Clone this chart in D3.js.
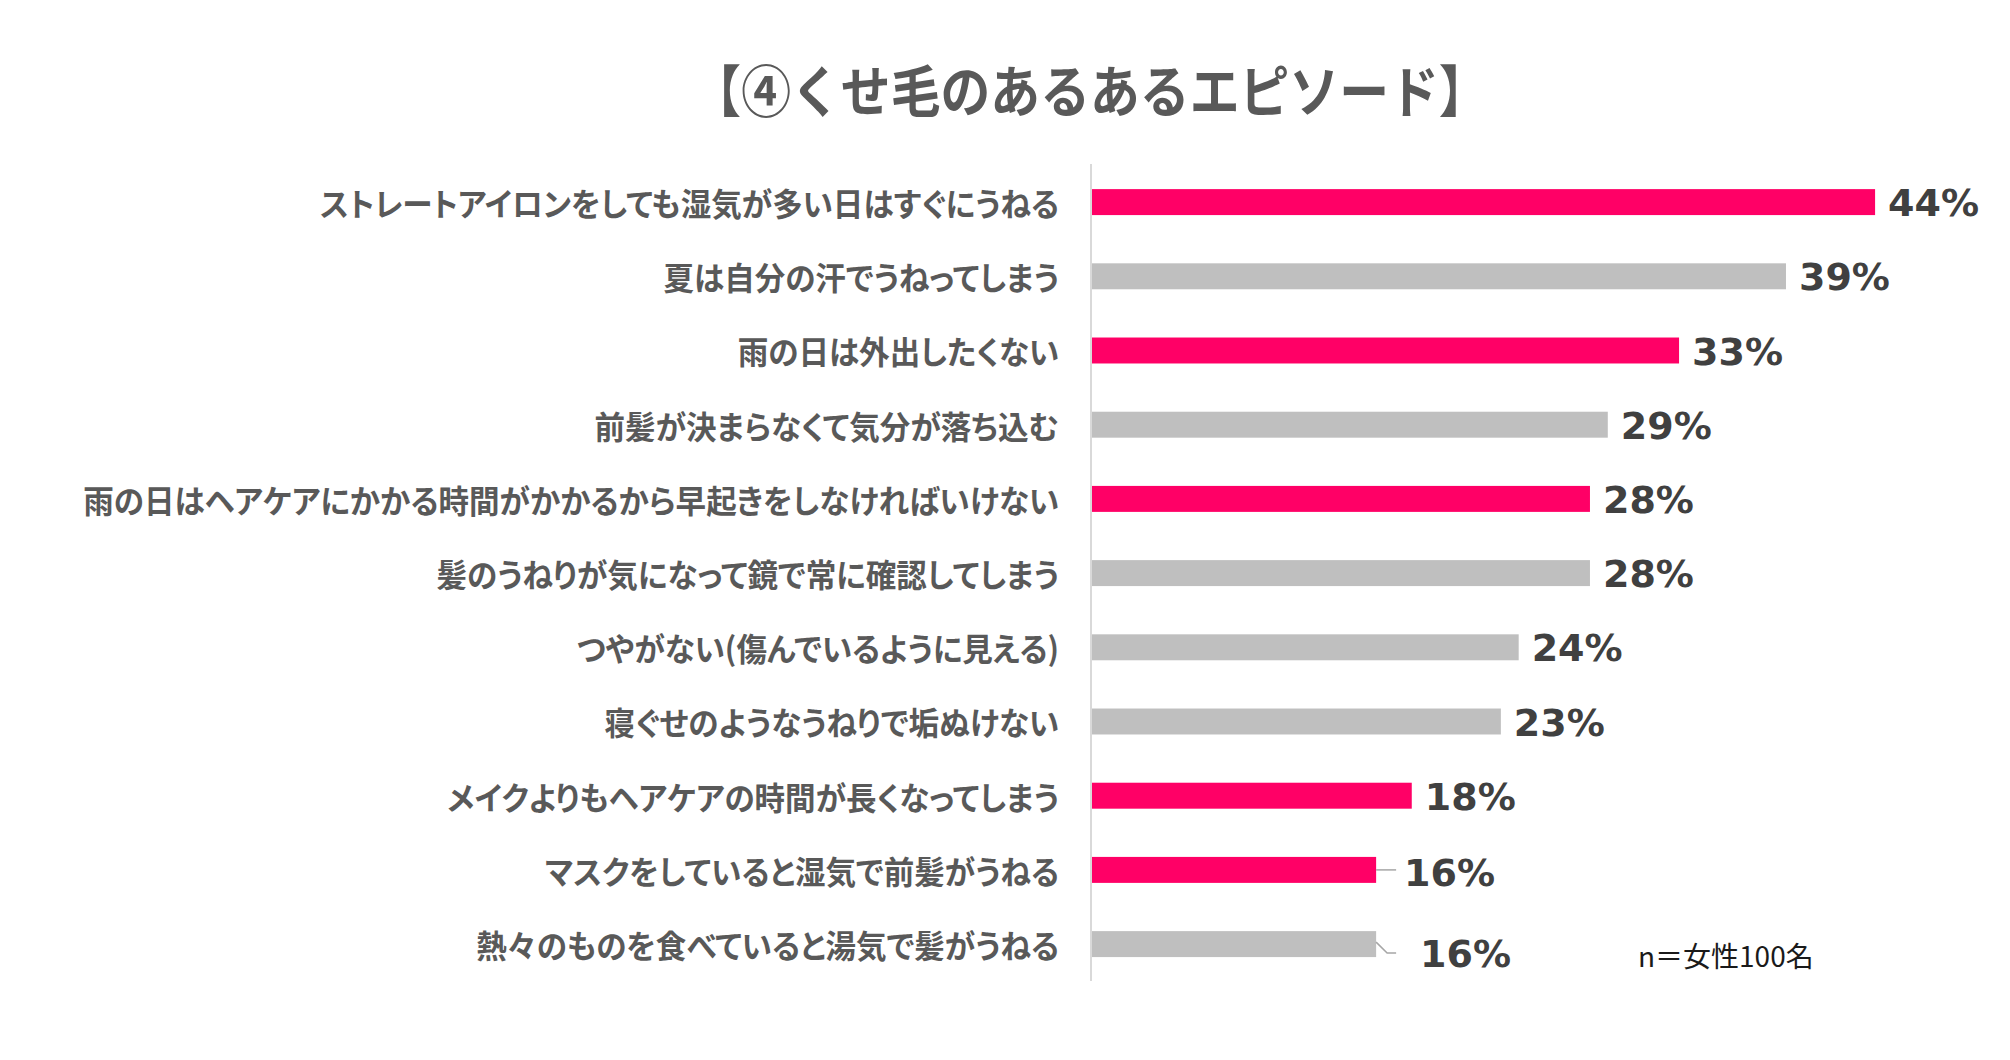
<!DOCTYPE html>
<html lang="ja">
<head>
<meta charset="utf-8">
<script src="https://cdn.jsdelivr.net/npm/d3@7"></script>
<style>
  html, body { margin: 0; padding: 0; background: #ffffff; }
  svg { display: block; }
  .cat { font-feature-settings: "palt" 1; }
</style>
</head>
<body>
<svg id="chart" width="2010" height="1060"></svg>
<script>
// Episodes, top to bottom
const categories = [
  "ストレートアイロンをしても湿気が多い日はすぐにうねる",
  "夏は自分の汗でうねってしまう",
  "雨の日は外出したくない",
  "前髪が決まらなくて気分が落ち込む",
  "雨の日はヘアケアにかかる時間がかかるから早起きをしなければいけない",
  "髪のうねりが気になって鏡で常に確認してしまう",
  "つやがない(傷んでいるように見える)",
  "寝ぐせのようなうねりで垢ぬけない",
  "メイクよりもヘアケアの時間が長くなってしまう",
  "マスクをしていると湿気で前髪がうねる",
  "熱々のものを食べていると湯気で髪がうねる"
];
// Share of respondents (%)
const values = [44, 39, 33, 29, 28, 28, 24, 23, 18, 16, 16];
// Highlighted rows
const highlighted = [true, false, true, false, true, false, false, false, true, true, false];

const title = "【④くせ毛のあるあるエピソード】";
const note = "n＝女性100名";

const PINK = "#ff0066";
const GREY = "#bfbfbf";

const svg = d3.select("#chart");

const x = d3.scaleLinear().domain([0, 100]).range([1091, 1091 + 1782]);
const y = d3.scaleBand()
  .domain(categories)
  .range([165, 165 + 74.2 * categories.length])
  .paddingInner(0.65)
  .paddingOuter(0.325);

const rows = categories.map((c, i) => ({ cat: c, value: values[i], hi: highlighted[i], i }));

// Title
svg.append("text")
  .attr("transform", "translate(1090,88) scale(0.89,1)")
  .attr("text-anchor", "middle")
  .attr("dominant-baseline", "central")
  .attr("font-family", "'Noto Sans CJK JP', sans-serif")
  .attr("font-weight", 700)
  .attr("font-size", 56)
  .attr("fill", "#595959")
  .text(title);

// Bars
svg.append("g").selectAll("rect")
  .data(rows)
  .join("rect")
  .attr("x", x(0))
  .attr("y", d => y(d.cat))
  .attr("width", d => x(d.value) - x(0))
  .attr("height", y.bandwidth())
  .attr("fill", d => d.hi ? PINK : GREY);

// Vertical axis line
svg.append("line")
  .attr("x1", x(0)).attr("x2", x(0))
  .attr("y1", 164).attr("y2", 981)
  .attr("stroke", "#d9d9d9")
  .attr("stroke-width", 2);

// Category labels (proportional kana widths)
const labelX = 1059;
svg.append("g").selectAll("text")
  .data(rows)
  .join("text")
  .attr("class", "cat")
  .attr("transform", d => `translate(${labelX},${y(d.cat) + y.bandwidth() / 2}) scale(0.955,1)`)
  .attr("text-anchor", "end")
  .attr("dominant-baseline", "central")
  .attr("font-family", "'Noto Sans CJK JP', sans-serif")
  .attr("font-weight", 700)
  .attr("font-size", 32)
  .attr("fill", "#595959")
  .text(d => d.cat);

// Value labels; the last two rows are nudged apart with leader lines
const offsets = rows.map((d, i) => {
  if (i === categories.length - 2) return { dx: 28, dy: 3, leader: "flat" };
  if (i === categories.length - 1) return { dx: 44, dy: 10, leader: "bent" };
  return { dx: 13, dy: 1, leader: null };
});

const leader = svg.append("g")
  .attr("fill", "none")
  .attr("stroke", "#a6a6a6")
  .attr("stroke-width", 1.5);

rows.forEach((d, i) => {
  const o = offsets[i];
  const x0 = x(d.value);
  const cy = y(d.cat) + y.bandwidth() / 2;
  if (o.leader === "flat") {
    leader.append("path").attr("d", `M${x0},${cy} H${x0 + 20}`);
  } else if (o.leader === "bent") {
    leader.append("path").attr("d", `M${x0},${cy - 2} L${x0 + 11},${cy + 9} H${x0 + 20}`);
  }
});

svg.append("g").selectAll("text")
  .data(rows)
  .join("text")
  .attr("x", (d, i) => x(d.value) + offsets[i].dx)
  .attr("y", (d, i) => y(d.cat) + y.bandwidth() / 2 + offsets[i].dy)
  .attr("dominant-baseline", "central")
  .attr("font-family", "'DejaVu Sans', sans-serif")
  .attr("font-weight", 700)
  .attr("font-size", 38)
  .attr("fill", "#404040")
  .text(d => d.value + "%");

// Sample size note
svg.append("text")
  .attr("x", 1638)
  .attr("y", 955)
  .attr("dominant-baseline", "central")
  .attr("font-family", "'Noto Sans CJK JP', sans-serif")
  .attr("font-size", 28)
  .attr("fill", "#1a1a1a")
  .text(note);
</script>
</body>
</html>
